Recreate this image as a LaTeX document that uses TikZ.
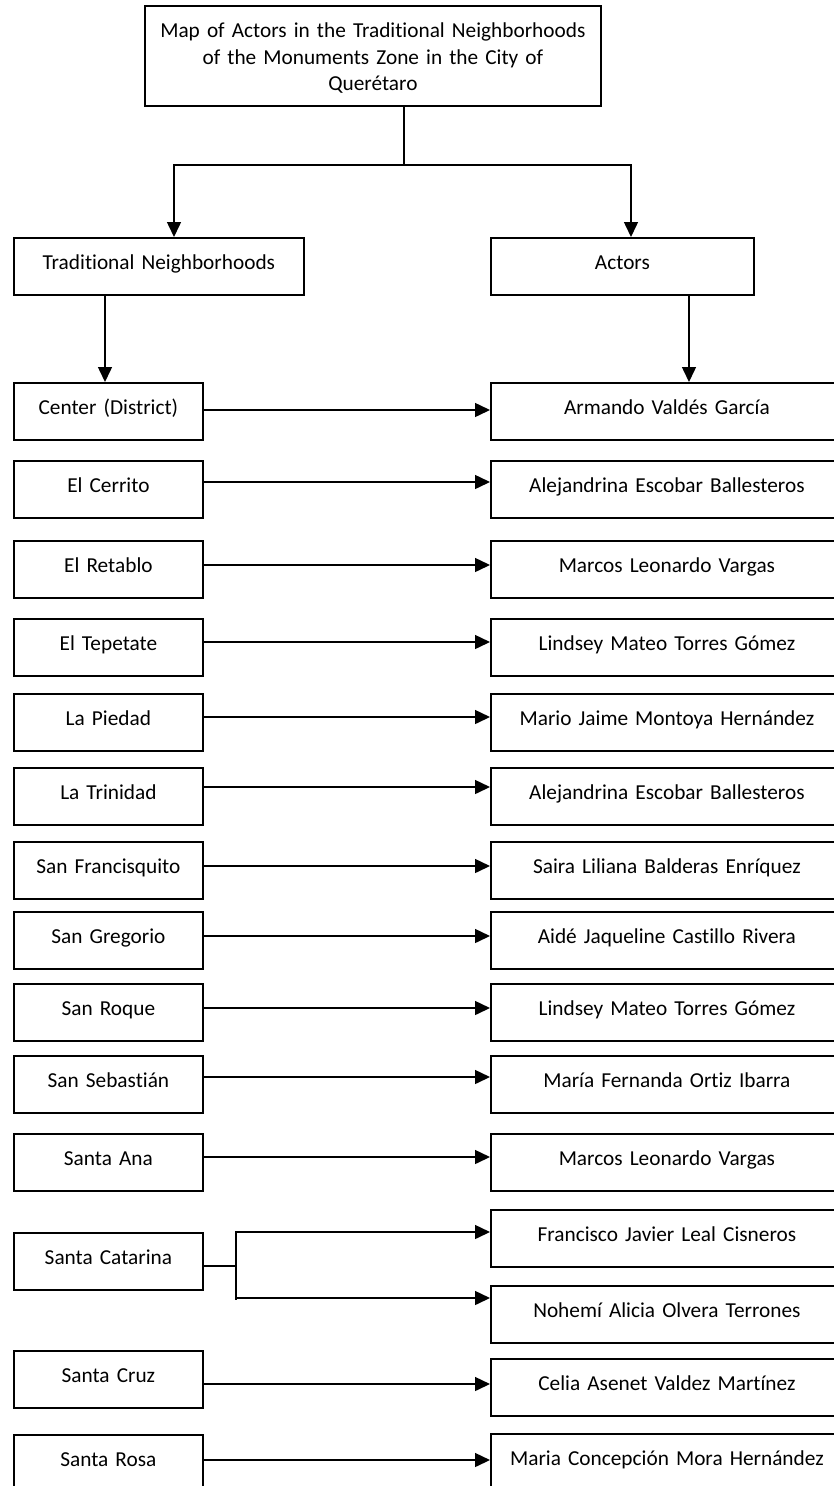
\documentclass[tikz,border=0pt]{standalone}
\usepackage{fontspec}
\setmainfont{Carlito}[Ligatures={NoCommon}]
\usetikzlibrary{arrows.meta}
\newcommand{\bodyfont}{\fontsize{21.3pt}{26.7pt}\selectfont}
\tikzset{
  box/.style={draw, line width=1.8pt, inner sep=0pt, text height=32pt, text depth=24.7pt,
    align=center, anchor=north west, font=\bodyfont},
  lbox/.style={box, text width=189pt},
  rbox/.style={box, text width=352pt},
  conn/.style={line width=1.5pt},
  arr/.style={conn, -{Triangle[length=15pt,width=14pt]}},
}
\begin{document}
\begin{tikzpicture}[x=1pt,y=-1pt]
\useasboundingbox (0,0) rectangle (834,1486);
\clip (0,0) rectangle (834,1486);
% title and headings
\node[draw, line width=1.8pt, inner sep=0pt, anchor=north west, text width=456pt,
  align=center, font=\bodyfont] (title) at (144,5)
  {\rule{0pt}{31.4pt}Map of Actors in the Traditional Neighborhoods\\ of the Monuments Zone in the City of\\ Querétaro\rule[-15pt]{0pt}{15pt}};
\node[box, text width=290pt] (tn) at (13,237) {Traditional Neighborhoods};
\node[box, text width=263pt] (ac) at (490,237) {Actors};
% left column
\node[lbox] (l1) at (13,382) {Center (District)};
\node[lbox] (l2) at (13,460) {El Cerrito};
\node[lbox] (l3) at (13,540) {El Retablo};
\node[lbox] (l4) at (13,618) {El Tepetate};
\node[lbox] (l5) at (13,693) {La Piedad};
\node[lbox] (l6) at (13,767) {La Trinidad};
\node[lbox] (l7) at (13,841) {San Francisquito};
\node[lbox] (l8) at (13,911) {San Gregorio};
\node[lbox] (l9) at (13,983) {San Roque};
\node[lbox] (l10) at (13,1055) {San Sebastián};
\node[lbox] (l11) at (13,1133) {Santa Ana};
\node[lbox] (l12) at (13,1232) {Santa Catarina};
\node[lbox] (l13) at (13,1350) {Santa Cruz};
\node[lbox] (l14) at (13,1434) {Santa Rosa};
% right column
\node[rbox] (r1) at (490,382) {Armando Valdés García};
\node[rbox] (r2) at (490,460) {Alejandrina Escobar Ballesteros};
\node[rbox] (r3) at (490,540) {Marcos Leonardo Vargas};
\node[rbox] (r4) at (490,618) {Lindsey Mateo Torres Gómez};
\node[rbox] (r5) at (490,693) {Mario Jaime Montoya Hernández};
\node[rbox] (r6) at (490,767) {Alejandrina Escobar Ballesteros};
\node[rbox] (r7) at (490,841) {Saira Liliana Balderas Enríquez};
\node[rbox] (r8) at (490,911) {Aidé Jaqueline Castillo Rivera};
\node[rbox] (r9) at (490,983) {Lindsey Mateo Torres Gómez};
\node[rbox] (r10) at (490,1055) {María Fernanda Ortiz Ibarra};
\node[rbox] (r11) at (490,1133) {Marcos Leonardo Vargas};
\node[rbox] (r12a) at (490,1209) {Francisco Javier Leal Cisneros};
\node[rbox] (r12b) at (490,1285) {Nohemí Alicia Olvera Terrones};
\node[rbox] (r13) at (490,1358) {Celia Asenet Valdez Martínez};
\node[rbox] (r14) at (490,1433) {Maria Concepción Mora Hernández};
% top connectors
\coordinate (j0) at (404,165);
\coordinate (jl) at (174,0);
\coordinate (jr) at (631,0);
\coordinate (cl) at (105,0);
\coordinate (cr) at (689,0);
\draw[conn] (title.south -| j0) -- (j0);
\draw[arr] (j0) -| (tn.north -| jl);
\draw[arr] (j0) -| (ac.north -| jr);
\draw[arr] (tn.south -| cl) -- (l1.north -| cl);
\draw[arr] (ac.south -| cr) -- (r1.north -| cr);
% row connectors
\coordinate (y1) at (0,410);
\coordinate (y2) at (0,482);
\coordinate (y3) at (0,565);
\coordinate (y4) at (0,642);
\coordinate (y5) at (0,717);
\coordinate (y6) at (0,787);
\coordinate (y7) at (0,866);
\coordinate (y8) at (0,936);
\coordinate (y9) at (0,1008);
\coordinate (y10) at (0,1077);
\coordinate (y11) at (0,1157);
\coordinate (y13) at (0,1384);
\coordinate (y14) at (0,1460);
\foreach \i in {1,...,11,13,14}{
  \draw[arr] (l\i.east |- y\i) -- (r\i.west |- y\i);
}
% Santa Catarina fork
\coordinate (sc) at (236,1266);
\coordinate (sca) at (236,1232);
\coordinate (scb) at (236,1298);
\draw[conn] (l12.east |- sc) -- (sc);
\draw[conn] (236,1231) -- (236,1300);
\draw[arr] (sca) -- (r12a.west |- sca);
\draw[arr] (scb) -- (r12b.west |- scb);
\end{tikzpicture}
\end{document}
